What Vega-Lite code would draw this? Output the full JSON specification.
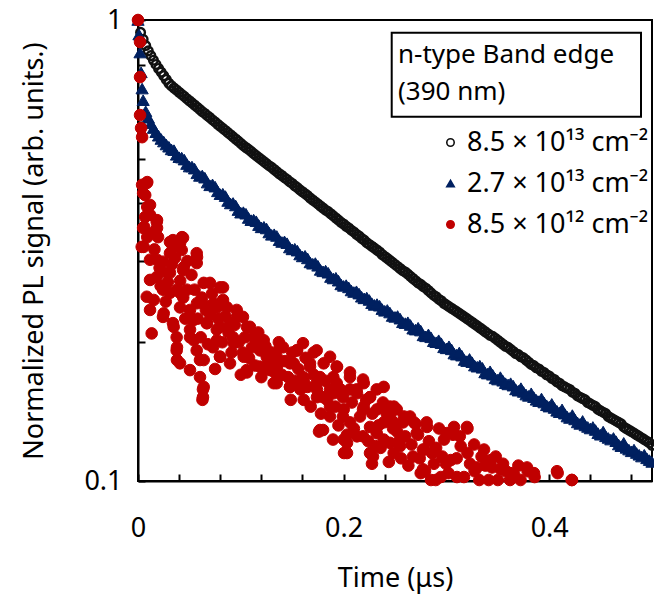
{
  "$schema": "https://vega.github.io/schema/vega-lite/v6.json",
  "width": 514,
  "height": 461,
  "autosize": {"type": "none"},
  "padding": {"left": 138, "top": 20, "right": 2, "bottom": 117},
  "background": "white",
  "config": {
    "font": "Noto Sans",
    "view": {"stroke": "#000000", "strokeWidth": 2},
    "axis": {
      "grid": false,
      "domainColor": "#000000",
      "domainWidth": 2,
      "tickColor": "#000000",
      "tickWidth": 2,
      "tickSize": -7,
      "labelColor": "#000000",
      "labelFontSize": 27,
      "labelFont": "Noto Sans",
      "labelFlush": false,
      "titleColor": "#000000",
      "titleFontSize": 27,
      "titleFont": "Noto Sans",
      "titleFontWeight": "normal",
      "labelOverlap": false
    },
    "legend": {
      "orient": "none",
      "legendX": 299,
      "legendY": 109,
      "padding": 0,
      "labelFontSize": 27,
      "labelFont": "Noto Sans",
      "labelColor": "#000000",
      "labelOffset": 3,
      "labelLimit": 0,
      "rowPadding": 13,
      "symbolSize": 55,
      "symbolStrokeWidth": 1.6,
      "title": null
    }
  },
  "datasets": {
    "high": [
      {"t": 0, "v": 1.0}, {"t": 0.0025, "v": 0.94}, {"t": 0.005, "v": 0.908}, {"t": 0.01, "v": 0.857},
      {"t": 0.015, "v": 0.818}, {"t": 0.02, "v": 0.785}, {"t": 0.025, "v": 0.757}, {"t": 0.03, "v": 0.729},
      {"t": 0.035, "v": 0.712}, {"t": 0.04, "v": 0.697}, {"t": 0.045, "v": 0.683}, {"t": 0.05, "v": 0.668},
      {"t": 0.055, "v": 0.654}, {"t": 0.06, "v": 0.64}, {"t": 0.065, "v": 0.627}, {"t": 0.07, "v": 0.614},
      {"t": 0.075, "v": 0.601}, {"t": 0.08, "v": 0.588}, {"t": 0.085, "v": 0.576}, {"t": 0.09, "v": 0.564},
      {"t": 0.095, "v": 0.552}, {"t": 0.1, "v": 0.54}, {"t": 0.105, "v": 0.529}, {"t": 0.11, "v": 0.519},
      {"t": 0.115, "v": 0.508}, {"t": 0.12, "v": 0.498}, {"t": 0.125, "v": 0.488}, {"t": 0.13, "v": 0.479},
      {"t": 0.135, "v": 0.469}, {"t": 0.14, "v": 0.46}, {"t": 0.145, "v": 0.451}, {"t": 0.15, "v": 0.442},
      {"t": 0.155, "v": 0.433}, {"t": 0.16, "v": 0.424}, {"t": 0.165, "v": 0.416}, {"t": 0.17, "v": 0.407},
      {"t": 0.175, "v": 0.399}, {"t": 0.18, "v": 0.391}, {"t": 0.185, "v": 0.384}, {"t": 0.19, "v": 0.376},
      {"t": 0.195, "v": 0.368}, {"t": 0.2, "v": 0.361}, {"t": 0.205, "v": 0.354}, {"t": 0.21, "v": 0.347},
      {"t": 0.215, "v": 0.34}, {"t": 0.22, "v": 0.333}, {"t": 0.225, "v": 0.326}, {"t": 0.23, "v": 0.32},
      {"t": 0.235, "v": 0.314}, {"t": 0.24, "v": 0.307}, {"t": 0.245, "v": 0.301}, {"t": 0.25, "v": 0.295},
      {"t": 0.255, "v": 0.289}, {"t": 0.26, "v": 0.284}, {"t": 0.265, "v": 0.278}, {"t": 0.27, "v": 0.272},
      {"t": 0.275, "v": 0.267}, {"t": 0.28, "v": 0.262}, {"t": 0.285, "v": 0.256}, {"t": 0.29, "v": 0.251},
      {"t": 0.295, "v": 0.246}, {"t": 0.3, "v": 0.241}, {"t": 0.305, "v": 0.237}, {"t": 0.31, "v": 0.233},
      {"t": 0.315, "v": 0.229}, {"t": 0.32, "v": 0.225}, {"t": 0.325, "v": 0.221}, {"t": 0.33, "v": 0.217},
      {"t": 0.335, "v": 0.213}, {"t": 0.34, "v": 0.209}, {"t": 0.345, "v": 0.206}, {"t": 0.35, "v": 0.202},
      {"t": 0.355, "v": 0.198}, {"t": 0.36, "v": 0.195}, {"t": 0.365, "v": 0.191}, {"t": 0.37, "v": 0.188},
      {"t": 0.375, "v": 0.185}, {"t": 0.38, "v": 0.181}, {"t": 0.385, "v": 0.178}, {"t": 0.39, "v": 0.175},
      {"t": 0.395, "v": 0.172}, {"t": 0.4, "v": 0.169}, {"t": 0.405, "v": 0.166}, {"t": 0.41, "v": 0.163},
      {"t": 0.415, "v": 0.16}, {"t": 0.42, "v": 0.158}, {"t": 0.425, "v": 0.155}, {"t": 0.43, "v": 0.152},
      {"t": 0.435, "v": 0.15}, {"t": 0.44, "v": 0.147}, {"t": 0.445, "v": 0.145}, {"t": 0.45, "v": 0.142},
      {"t": 0.455, "v": 0.14}, {"t": 0.46, "v": 0.137}, {"t": 0.465, "v": 0.135}, {"t": 0.47, "v": 0.133},
      {"t": 0.475, "v": 0.13}, {"t": 0.48, "v": 0.128}, {"t": 0.485, "v": 0.126}, {"t": 0.49, "v": 0.124},
      {"t": 0.495, "v": 0.122}, {"t": 0.5, "v": 0.1195},
      {"t": 0.0075, "v": 0.88}, {"t": 0.0125, "v": 0.837}, {"t": 0.0175, "v": 0.801}, {"t": 0.0225, "v": 0.771},
      {"t": 0.0275, "v": 0.743}, {"t": 0.0325, "v": 0.72}, {"t": 0.0375, "v": 0.705}, {"t": 0.0425, "v": 0.69},
      {"t": 0.0475, "v": 0.675}, {"t": 0.0525, "v": 0.661}, {"t": 0.0575, "v": 0.647}, {"t": 0.0625, "v": 0.633},
      {"t": 0.0675, "v": 0.62}, {"t": 0.0725, "v": 0.607}, {"t": 0.0775, "v": 0.594}, {"t": 0.0825, "v": 0.582},
      {"t": 0.0875, "v": 0.57}, {"t": 0.0925, "v": 0.558}, {"t": 0.0975, "v": 0.546}, {"t": 0.1025, "v": 0.534},
      {"t": 0.1075, "v": 0.524}, {"t": 0.1125, "v": 0.513}, {"t": 0.1175, "v": 0.503}, {"t": 0.1225, "v": 0.493},
      {"t": 0.1275, "v": 0.483}, {"t": 0.1325, "v": 0.474}, {"t": 0.1375, "v": 0.464}, {"t": 0.1425, "v": 0.455},
      {"t": 0.1475, "v": 0.446}, {"t": 0.1525, "v": 0.437}, {"t": 0.1575, "v": 0.428}, {"t": 0.1625, "v": 0.42},
      {"t": 0.1675, "v": 0.411}, {"t": 0.1725, "v": 0.403}, {"t": 0.1775, "v": 0.395}, {"t": 0.1825, "v": 0.387},
      {"t": 0.1875, "v": 0.38}, {"t": 0.1925, "v": 0.372}, {"t": 0.1975, "v": 0.364}, {"t": 0.2025, "v": 0.357},
      {"t": 0.2075, "v": 0.35}, {"t": 0.2125, "v": 0.343}, {"t": 0.2175, "v": 0.336}, {"t": 0.2225, "v": 0.329},
      {"t": 0.2275, "v": 0.323}, {"t": 0.2325, "v": 0.317}, {"t": 0.2375, "v": 0.31}, {"t": 0.2425, "v": 0.304},
      {"t": 0.2475, "v": 0.298}, {"t": 0.2525, "v": 0.292}, {"t": 0.2575, "v": 0.286}, {"t": 0.2625, "v": 0.281},
      {"t": 0.2675, "v": 0.275}, {"t": 0.2725, "v": 0.269}, {"t": 0.2775, "v": 0.264}, {"t": 0.2825, "v": 0.259},
      {"t": 0.2875, "v": 0.253}, {"t": 0.2925, "v": 0.248}, {"t": 0.2975, "v": 0.243}, {"t": 0.3025, "v": 0.239},
      {"t": 0.3075, "v": 0.235}, {"t": 0.3125, "v": 0.231}, {"t": 0.3175, "v": 0.227}, {"t": 0.3225, "v": 0.223},
      {"t": 0.3275, "v": 0.219}, {"t": 0.3325, "v": 0.215}, {"t": 0.3375, "v": 0.211}, {"t": 0.3425, "v": 0.207},
      {"t": 0.3475, "v": 0.204}, {"t": 0.3525, "v": 0.2}, {"t": 0.3575, "v": 0.196}, {"t": 0.3625, "v": 0.193},
      {"t": 0.3675, "v": 0.189}, {"t": 0.3725, "v": 0.186}, {"t": 0.3775, "v": 0.183}, {"t": 0.3825, "v": 0.179},
      {"t": 0.3875, "v": 0.176}, {"t": 0.3925, "v": 0.173}, {"t": 0.3975, "v": 0.17}, {"t": 0.4025, "v": 0.167},
      {"t": 0.4075, "v": 0.164}, {"t": 0.4125, "v": 0.161}, {"t": 0.4175, "v": 0.159}, {"t": 0.4225, "v": 0.156},
      {"t": 0.4275, "v": 0.153}, {"t": 0.4325, "v": 0.151}, {"t": 0.4375, "v": 0.148}, {"t": 0.4425, "v": 0.146},
      {"t": 0.4475, "v": 0.143}, {"t": 0.4525, "v": 0.141}, {"t": 0.4575, "v": 0.138}, {"t": 0.4625, "v": 0.136},
      {"t": 0.4675, "v": 0.134}, {"t": 0.4725, "v": 0.131}, {"t": 0.4775, "v": 0.129}, {"t": 0.4825, "v": 0.127},
      {"t": 0.4875, "v": 0.125}, {"t": 0.4925, "v": 0.123}, {"t": 0.4975, "v": 0.121}
    ],
    "mid": [
      {"t": 0, "v": 1.0}, {"t": 0.001, "v": 0.93}, {"t": 0.002, "v": 0.85}, {"t": 0.003, "v": 0.77},
      {"t": 0.004, "v": 0.71}, {"t": 0.005, "v": 0.67}, {"t": 0.0075, "v": 0.634}, {"t": 0.01, "v": 0.614},
      {"t": 0.0125, "v": 0.597}, {"t": 0.015, "v": 0.583}, {"t": 0.0175, "v": 0.571}, {"t": 0.02, "v": 0.561},
      {"t": 0.0225, "v": 0.552}, {"t": 0.025, "v": 0.545}, {"t": 0.0275, "v": 0.537}, {"t": 0.03, "v": 0.531},
      {"t": 0.035, "v": 0.522}, {"t": 0.04, "v": 0.504}, {"t": 0.045, "v": 0.498}, {"t": 0.05, "v": 0.481},
      {"t": 0.055, "v": 0.476}, {"t": 0.06, "v": 0.459}, {"t": 0.065, "v": 0.455}, {"t": 0.07, "v": 0.438},
      {"t": 0.075, "v": 0.435}, {"t": 0.08, "v": 0.419}, {"t": 0.085, "v": 0.415}, {"t": 0.09, "v": 0.4},
      {"t": 0.095, "v": 0.396}, {"t": 0.1, "v": 0.382}, {"t": 0.105, "v": 0.38}, {"t": 0.11, "v": 0.368},
      {"t": 0.115, "v": 0.366}, {"t": 0.12, "v": 0.355}, {"t": 0.125, "v": 0.353}, {"t": 0.13, "v": 0.342},
      {"t": 0.135, "v": 0.34}, {"t": 0.14, "v": 0.33}, {"t": 0.145, "v": 0.328}, {"t": 0.15, "v": 0.318},
      {"t": 0.155, "v": 0.316}, {"t": 0.16, "v": 0.307}, {"t": 0.165, "v": 0.304}, {"t": 0.17, "v": 0.296},
      {"t": 0.175, "v": 0.293}, {"t": 0.18, "v": 0.285}, {"t": 0.185, "v": 0.283}, {"t": 0.19, "v": 0.275},
      {"t": 0.195, "v": 0.272}, {"t": 0.2, "v": 0.265}, {"t": 0.205, "v": 0.263}, {"t": 0.21, "v": 0.257},
      {"t": 0.215, "v": 0.255}, {"t": 0.22, "v": 0.249}, {"t": 0.225, "v": 0.247}, {"t": 0.23, "v": 0.241},
      {"t": 0.235, "v": 0.24}, {"t": 0.24, "v": 0.234}, {"t": 0.245, "v": 0.232}, {"t": 0.25, "v": 0.227},
      {"t": 0.255, "v": 0.225}, {"t": 0.26, "v": 0.22}, {"t": 0.265, "v": 0.218}, {"t": 0.27, "v": 0.213},
      {"t": 0.275, "v": 0.212}, {"t": 0.28, "v": 0.206}, {"t": 0.285, "v": 0.205}, {"t": 0.29, "v": 0.2},
      {"t": 0.295, "v": 0.199}, {"t": 0.3, "v": 0.194}, {"t": 0.305, "v": 0.193}, {"t": 0.31, "v": 0.188},
      {"t": 0.315, "v": 0.187}, {"t": 0.32, "v": 0.182}, {"t": 0.325, "v": 0.181}, {"t": 0.33, "v": 0.177},
      {"t": 0.335, "v": 0.176}, {"t": 0.34, "v": 0.171}, {"t": 0.345, "v": 0.17}, {"t": 0.35, "v": 0.166},
      {"t": 0.355, "v": 0.165}, {"t": 0.36, "v": 0.162}, {"t": 0.365, "v": 0.161}, {"t": 0.37, "v": 0.157},
      {"t": 0.375, "v": 0.156}, {"t": 0.38, "v": 0.153}, {"t": 0.385, "v": 0.152}, {"t": 0.39, "v": 0.149},
      {"t": 0.395, "v": 0.148}, {"t": 0.4, "v": 0.145}, {"t": 0.405, "v": 0.144}, {"t": 0.41, "v": 0.141},
      {"t": 0.415, "v": 0.14}, {"t": 0.42, "v": 0.137}, {"t": 0.425, "v": 0.136}, {"t": 0.43, "v": 0.133},
      {"t": 0.435, "v": 0.132}, {"t": 0.44, "v": 0.13}, {"t": 0.445, "v": 0.129}, {"t": 0.45, "v": 0.126},
      {"t": 0.455, "v": 0.125}, {"t": 0.46, "v": 0.123}, {"t": 0.465, "v": 0.122}, {"t": 0.47, "v": 0.119},
      {"t": 0.475, "v": 0.118}, {"t": 0.48, "v": 0.116}, {"t": 0.485, "v": 0.115}, {"t": 0.49, "v": 0.113},
      {"t": 0.495, "v": 0.112}, {"t": 0.5, "v": 0.11},
      {"t": 0.0325, "v": 0.524}, {"t": 0.0375, "v": 0.51}, {"t": 0.0425, "v": 0.503}, {"t": 0.0475, "v": 0.487},
      {"t": 0.0525, "v": 0.481}, {"t": 0.0575, "v": 0.465}, {"t": 0.0625, "v": 0.46}, {"t": 0.0675, "v": 0.444},
      {"t": 0.0725, "v": 0.44}, {"t": 0.0775, "v": 0.425}, {"t": 0.0825, "v": 0.42}, {"t": 0.0875, "v": 0.405},
      {"t": 0.0925, "v": 0.401}, {"t": 0.0975, "v": 0.387}, {"t": 0.1025, "v": 0.383}, {"t": 0.1075, "v": 0.372},
      {"t": 0.1125, "v": 0.369}, {"t": 0.1175, "v": 0.359}, {"t": 0.1225, "v": 0.356}, {"t": 0.1275, "v": 0.346},
      {"t": 0.1325, "v": 0.343}, {"t": 0.1375, "v": 0.333}, {"t": 0.1425, "v": 0.331}, {"t": 0.1475, "v": 0.321},
      {"t": 0.1525, "v": 0.319}, {"t": 0.1575, "v": 0.31}, {"t": 0.1625, "v": 0.308}, {"t": 0.1675, "v": 0.298},
      {"t": 0.1725, "v": 0.297}, {"t": 0.1775, "v": 0.287}, {"t": 0.1825, "v": 0.286}, {"t": 0.1875, "v": 0.277},
      {"t": 0.1925, "v": 0.276}, {"t": 0.1975, "v": 0.267}, {"t": 0.2025, "v": 0.266}, {"t": 0.2075, "v": 0.259},
      {"t": 0.2125, "v": 0.258}, {"t": 0.2175, "v": 0.251}, {"t": 0.2225, "v": 0.25}, {"t": 0.2275, "v": 0.243},
      {"t": 0.2325, "v": 0.242}, {"t": 0.2375, "v": 0.236}, {"t": 0.2425, "v": 0.235}, {"t": 0.2475, "v": 0.228},
      {"t": 0.2525, "v": 0.228}, {"t": 0.2575, "v": 0.221}, {"t": 0.2625, "v": 0.221}, {"t": 0.2675, "v": 0.214},
      {"t": 0.2725, "v": 0.215}, {"t": 0.2775, "v": 0.207}, {"t": 0.2825, "v": 0.208}, {"t": 0.2875, "v": 0.201},
      {"t": 0.2925, "v": 0.202}, {"t": 0.2975, "v": 0.195}, {"t": 0.3025, "v": 0.196}, {"t": 0.3075, "v": 0.189},
      {"t": 0.3125, "v": 0.19}, {"t": 0.3175, "v": 0.183}, {"t": 0.3225, "v": 0.184}, {"t": 0.3275, "v": 0.178},
      {"t": 0.3325, "v": 0.178}, {"t": 0.3375, "v": 0.172}, {"t": 0.3425, "v": 0.173}, {"t": 0.3475, "v": 0.167},
      {"t": 0.3525, "v": 0.168}, {"t": 0.3575, "v": 0.163}, {"t": 0.3625, "v": 0.163}, {"t": 0.3675, "v": 0.158},
      {"t": 0.3725, "v": 0.159}, {"t": 0.3775, "v": 0.154}, {"t": 0.3825, "v": 0.155}, {"t": 0.3875, "v": 0.15},
      {"t": 0.3925, "v": 0.151}, {"t": 0.3975, "v": 0.146}, {"t": 0.4025, "v": 0.147}, {"t": 0.4075, "v": 0.142},
      {"t": 0.4125, "v": 0.143}, {"t": 0.4175, "v": 0.138}, {"t": 0.4225, "v": 0.139}, {"t": 0.4275, "v": 0.134},
      {"t": 0.4325, "v": 0.135}, {"t": 0.4375, "v": 0.131}, {"t": 0.4425, "v": 0.131}, {"t": 0.4475, "v": 0.127},
      {"t": 0.4525, "v": 0.128}, {"t": 0.4575, "v": 0.124}, {"t": 0.4625, "v": 0.124}, {"t": 0.4675, "v": 0.12},
      {"t": 0.4725, "v": 0.121}, {"t": 0.4775, "v": 0.117}, {"t": 0.4825, "v": 0.117}, {"t": 0.4875, "v": 0.114},
      {"t": 0.4925, "v": 0.114}, {"t": 0.4975, "v": 0.111}
    ],
    "low": [
      {"t": 0, "v": 1.0}, {"t": 0.002, "v": 0.896}, {"t": 0.002, "v": 0.752}, {"t": 0.002, "v": 0.622},
      {"t": 0.003, "v": 0.583}, {"t": 0.004, "v": 0.557},
      {"t": 0.009, "v": 0.445}, {"t": 0.004, "v": 0.439}, {"t": 0.007, "v": 0.417}, {"t": 0.009, "v": 0.393},
      {"t": 0.0117, "v": 0.378}, {"t": 0.0185, "v": 0.368}, {"t": 0.006, "v": 0.356}, {"t": 0.0185, "v": 0.354},
      {"t": 0.0311, "v": 0.33}, {"t": 0.0428, "v": 0.338}, {"t": 0.009, "v": 0.338},
      {"t": 0.0085, "v": 0.443}, {"t": 0.005, "v": 0.421}, {"t": 0.0117, "v": 0.397}, {"t": 0.007, "v": 0.374},
      {"t": 0.0182, "v": 0.365}, {"t": 0.005, "v": 0.354}, {"t": 0.0195, "v": 0.338}, {"t": 0.0036, "v": 0.322},
      {"t": 0.034, "v": 0.333}, {"t": 0.0438, "v": 0.337}, {"t": 0.0117, "v": 0.302}, {"t": 0.0243, "v": 0.299},
      {"t": 0.034, "v": 0.322}, {"t": 0.0425, "v": 0.317}, {"t": 0.0571, "v": 0.312}, {"t": 0.0182, "v": 0.277},
      {"t": 0.0311, "v": 0.283}, {"t": 0.0438, "v": 0.287}, {"t": 0.0571, "v": 0.297}, {"t": 0.07, "v": 0.269},
      {"t": 0.0827, "v": 0.263}, {"t": 0.0085, "v": 0.251}, {"t": 0.0243, "v": 0.26}, {"t": 0.0409, "v": 0.256},
      {"t": 0.0506, "v": 0.235}, {"t": 0.0632, "v": 0.243}, {"t": 0.0766, "v": 0.238}, {"t": 0.0117, "v": 0.235},
      {"t": 0.0243, "v": 0.227}, {"t": 0.034, "v": 0.22}, {"t": 0.0535, "v": 0.223}, {"t": 0.0668, "v": 0.22},
      {"t": 0.0827, "v": 0.247}, {"t": 0.096, "v": 0.235}, {"t": 0.0133, "v": 0.209}, {"t": 0.0376, "v": 0.205},
      {"t": 0.0506, "v": 0.205}, {"t": 0.0766, "v": 0.213}, {"t": 0.0895, "v": 0.22}, {"t": 0.1021, "v": 0.227},
      {"t": 0.0376, "v": 0.192}, {"t": 0.0571, "v": 0.192}, {"t": 0.073, "v": 0.195}, {"t": 0.0924, "v": 0.205},
      {"t": 0.1089, "v": 0.216}, {"t": 0.1155, "v": 0.205}, {"t": 0.0409, "v": 0.18}, {"t": 0.0506, "v": 0.174},
      {"t": 0.0603, "v": 0.183}, {"t": 0.0798, "v": 0.186}, {"t": 0.0895, "v": 0.18}, {"t": 0.1021, "v": 0.19},
      {"t": 0.1187, "v": 0.195}, {"t": 0.1252, "v": 0.186}, {"t": 0.0603, "v": 0.168}, {"t": 0.0632, "v": 0.158},
      {"t": 0.0632, "v": 0.152}, {"t": 0.1057, "v": 0.174}, {"t": 0.1187, "v": 0.177}, {"t": 0.1284, "v": 0.174},
      {"t": 0.1349, "v": 0.186}, {"t": 0.141, "v": 0.195}, {"t": 0.1479, "v": 0.18}, {"t": 0.1544, "v": 0.192},
      {"t": 0.1605, "v": 0.199}, {"t": 0.1349, "v": 0.163}, {"t": 0.1479, "v": 0.16}, {"t": 0.1605, "v": 0.168},
      {"t": 0.1673, "v": 0.18}, {"t": 0.1738, "v": 0.192}, {"t": 0.1868, "v": 0.186}, {"t": 0.1933, "v": 0.177},
      {"t": 0.1738, "v": 0.163}, {"t": 0.1868, "v": 0.158}, {"t": 0.18, "v": 0.152}, {"t": 0.1933, "v": 0.163},
      {"t": 0.1994, "v": 0.152}, {"t": 0.2062, "v": 0.168}, {"t": 0.2127, "v": 0.158}, {"t": 0.2189, "v": 0.166},
      {"t": 0.2257, "v": 0.152}, {"t": 0.1868, "v": 0.145}, {"t": 0.18, "v": 0.129}, {"t": 0.1994, "v": 0.138},
      {"t": 0.2062, "v": 0.134}, {"t": 0.2189, "v": 0.143}, {"t": 0.2322, "v": 0.158}, {"t": 0.2383, "v": 0.148},
      {"t": 0.2451, "v": 0.138}, {"t": 0.2033, "v": 0.121}, {"t": 0.2033, "v": 0.115}, {"t": 0.2189, "v": 0.125},
      {"t": 0.2322, "v": 0.127}, {"t": 0.2286, "v": 0.113}, {"t": 0.2517, "v": 0.143}, {"t": 0.2578, "v": 0.134},
      {"t": 0.2646, "v": 0.138}, {"t": 0.2711, "v": 0.127}, {"t": 0.2772, "v": 0.117}, {"t": 0.2772, "v": 0.106},
      {"t": 0.2549, "v": 0.123}, {"t": 0.2451, "v": 0.121}, {"t": 0.2675, "v": 0.113}, {"t": 0.2808, "v": 0.134},
      {"t": 0.0627, "v": 0.15}, {"t": 0.1486, "v": 0.15}, {"t": 0.1761, "v": 0.128}, {"t": 0.1897, "v": 0.123},
      {"t": 0.2004, "v": 0.115}, {"t": 0.2033, "v": 0.126}, {"t": 0.2276, "v": 0.109}, {"t": 0.2311, "v": 0.119},
      {"t": 0.238, "v": 0.145}, {"t": 0.2481, "v": 0.13}, {"t": 0.2549, "v": 0.119}, {"t": 0.2617, "v": 0.137},
      {"t": 0.2724, "v": 0.126}, {"t": 0.2792, "v": 0.105}, {"t": 0.286, "v": 0.115}, {"t": 0.2896, "v": 0.1005},
      {"t": 0.2928, "v": 0.13}, {"t": 0.2996, "v": 0.109}, {"t": 0.3064, "v": 0.126}, {"t": 0.3103, "v": 0.102},
      {"t": 0.3205, "v": 0.13}, {"t": 0.3205, "v": 0.115}, {"t": 0.3274, "v": 0.105}, {"t": 0.3342, "v": 0.113},
      {"t": 0.3411, "v": 0.1005}, {"t": 0.3444, "v": 0.107}, {"t": 0.3551, "v": 0.109}, {"t": 0.3619, "v": 0.1005},
      {"t": 0.3721, "v": 0.1005}, {"t": 0.379, "v": 0.105}, {"t": 0.3858, "v": 0.102}, {"t": 0.4082, "v": 0.104},
      {"t": 0.4219, "v": 0.1005},
      {"t": 0.249, "v": 0.145}, {"t": 0.2588, "v": 0.138}, {"t": 0.2685, "v": 0.134}, {"t": 0.2811, "v": 0.131},
      {"t": 0.3074, "v": 0.131}, {"t": 0.32, "v": 0.131}, {"t": 0.2977, "v": 0.123}, {"t": 0.3139, "v": 0.119},
      {"t": 0.2782, "v": 0.117}, {"t": 0.2879, "v": 0.109}, {"t": 0.3042, "v": 0.111}, {"t": 0.3366, "v": 0.117},
      {"t": 0.3431, "v": 0.111}, {"t": 0.3298, "v": 0.107}, {"t": 0.3528, "v": 0.106}, {"t": 0.3626, "v": 0.104},
      {"t": 0.275, "v": 0.104}, {"t": 0.2945, "v": 0.102}, {"t": 0.3171, "v": 0.102}, {"t": 0.3784, "v": 0.107},
      {"t": 0.3852, "v": 0.104}, {"t": 0.4076, "v": 0.105}, {"t": 0.4222, "v": 0.1005},
      {"t": 0.0055, "v": 0.322}, {"t": 0.0185, "v": 0.302}, {"t": 0.0311, "v": 0.312}, {"t": 0.0409, "v": 0.328},
      {"t": 0.0117, "v": 0.273}, {"t": 0.0282, "v": 0.283}, {"t": 0.0445, "v": 0.291}, {"t": 0.0574, "v": 0.306},
      {"t": 0.0153, "v": 0.247}, {"t": 0.0311, "v": 0.256}, {"t": 0.0477, "v": 0.26}, {"t": 0.0639, "v": 0.269},
      {"t": 0.0798, "v": 0.263}, {"t": 0.025, "v": 0.231}, {"t": 0.0409, "v": 0.238}, {"t": 0.0574, "v": 0.243},
      {"t": 0.0736, "v": 0.243}, {"t": 0.0866, "v": 0.238}, {"t": 0.0963, "v": 0.227}, {"t": 0.0347, "v": 0.216},
      {"t": 0.0506, "v": 0.213}, {"t": 0.0671, "v": 0.22}, {"t": 0.0798, "v": 0.216}, {"t": 0.106, "v": 0.216},
      {"t": 0.1125, "v": 0.205}, {"t": 0.0379, "v": 0.195}, {"t": 0.0542, "v": 0.202}, {"t": 0.0768, "v": 0.202},
      {"t": 0.0931, "v": 0.199}, {"t": 0.1223, "v": 0.202}, {"t": 0.0379, "v": 0.183}, {"t": 0.0639, "v": 0.183},
      {"t": 0.0798, "v": 0.186}, {"t": 0.1028, "v": 0.186}, {"t": 0.1187, "v": 0.192}, {"t": 0.1381, "v": 0.195},
      {"t": 0.1547, "v": 0.192}, {"t": 0.1709, "v": 0.19}, {"t": 0.106, "v": 0.172}, {"t": 0.1223, "v": 0.174},
      {"t": 0.1352, "v": 0.177}, {"t": 0.1515, "v": 0.18}, {"t": 0.1673, "v": 0.177}, {"t": 0.1806, "v": 0.18},
      {"t": 0.1936, "v": 0.177}, {"t": 0.0639, "v": 0.16}, {"t": 0.132, "v": 0.163}, {"t": 0.1479, "v": 0.16},
      {"t": 0.1612, "v": 0.166}, {"t": 0.177, "v": 0.168}, {"t": 0.2062, "v": 0.172}, {"t": 0.2196, "v": 0.163},
      {"t": 0.1612, "v": 0.15}, {"t": 0.1741, "v": 0.152}, {"t": 0.1904, "v": 0.155}, {"t": 0.2062, "v": 0.158},
      {"t": 0.2257, "v": 0.152}, {"t": 0.239, "v": 0.16}, {"t": 0.177, "v": 0.129}, {"t": 0.1868, "v": 0.138},
      {"t": 0.2001, "v": 0.143}, {"t": 0.2196, "v": 0.145}, {"t": 0.2325, "v": 0.143}, {"t": 0.2451, "v": 0.145},
      {"t": 0.2001, "v": 0.123}, {"t": 0.213, "v": 0.125}, {"t": 0.2257, "v": 0.131}, {"t": 0.239, "v": 0.134},
      {"t": 0.2257, "v": 0.115}, {"t": 0.239, "v": 0.123}, {"t": 0.2487, "v": 0.134}, {"t": 0.2487, "v": 0.115},
      {"t": 0.014, "v": 0.345}, {"t": 0.016, "v": 0.318}, {"t": 0.021, "v": 0.29}, {"t": 0.022, "v": 0.265},
      {"t": 0.027, "v": 0.245}, {"t": 0.029, "v": 0.27}, {"t": 0.033, "v": 0.295}, {"t": 0.036, "v": 0.305},
      {"t": 0.038, "v": 0.26}, {"t": 0.041, "v": 0.272}, {"t": 0.044, "v": 0.25}, {"t": 0.046, "v": 0.225},
      {"t": 0.048, "v": 0.3}, {"t": 0.052, "v": 0.28}, {"t": 0.055, "v": 0.26}, {"t": 0.058, "v": 0.225},
      {"t": 0.061, "v": 0.205}, {"t": 0.062, "v": 0.25}, {"t": 0.066, "v": 0.235}, {"t": 0.068, "v": 0.198},
      {"t": 0.07, "v": 0.23}, {"t": 0.072, "v": 0.255}, {"t": 0.075, "v": 0.175}, {"t": 0.078, "v": 0.225},
      {"t": 0.082, "v": 0.2}, {"t": 0.085, "v": 0.228}, {"t": 0.088, "v": 0.21}, {"t": 0.091, "v": 0.19},
      {"t": 0.094, "v": 0.218}, {"t": 0.098, "v": 0.2}, {"t": 0.1, "v": 0.17}, {"t": 0.104, "v": 0.205},
      {"t": 0.108, "v": 0.185}, {"t": 0.111, "v": 0.195}, {"t": 0.114, "v": 0.178}, {"t": 0.117, "v": 0.21},
      {"t": 0.12, "v": 0.168}, {"t": 0.124, "v": 0.196}, {"t": 0.127, "v": 0.183}, {"t": 0.13, "v": 0.19},
      {"t": 0.133, "v": 0.172}, {"t": 0.137, "v": 0.2}, {"t": 0.14, "v": 0.17}, {"t": 0.143, "v": 0.182},
      {"t": 0.146, "v": 0.168}, {"t": 0.15, "v": 0.19}, {"t": 0.153, "v": 0.165}, {"t": 0.156, "v": 0.175},
      {"t": 0.158, "v": 0.158}, {"t": 0.163, "v": 0.185}, {"t": 0.165, "v": 0.16}, {"t": 0.168, "v": 0.145},
      {"t": 0.171, "v": 0.17}, {"t": 0.174, "v": 0.158}, {"t": 0.178, "v": 0.14}, {"t": 0.182, "v": 0.165},
      {"t": 0.184, "v": 0.15}, {"t": 0.19, "v": 0.168}, {"t": 0.192, "v": 0.145}, {"t": 0.195, "v": 0.132},
      {"t": 0.197, "v": 0.158}, {"t": 0.208, "v": 0.148}, {"t": 0.21, "v": 0.13}, {"t": 0.213, "v": 0.155},
      {"t": 0.216, "v": 0.138}, {"t": 0.222, "v": 0.15}, {"t": 0.224, "v": 0.122}, {"t": 0.228, "v": 0.14},
      {"t": 0.234, "v": 0.132}, {"t": 0.236, "v": 0.118}, {"t": 0.242, "v": 0.14}, {"t": 0.244, "v": 0.11},
      {"t": 0.252, "v": 0.128}, {"t": 0.256, "v": 0.112}, {"t": 0.26, "v": 0.125}, {"t": 0.263, "v": 0.108},
      {"t": 0.266, "v": 0.12}, {"t": 0.27, "v": 0.133}, {"t": 0.274, "v": 0.112}, {"t": 0.283, "v": 0.122},
      {"t": 0.285, "v": 0.1005}, {"t": 0.29, "v": 0.118}, {"t": 0.296, "v": 0.113}, {"t": 0.3, "v": 0.127},
      {"t": 0.302, "v": 0.104}, {"t": 0.31, "v": 0.112}, {"t": 0.313, "v": 0.125}, {"t": 0.323, "v": 0.109},
      {"t": 0.327, "v": 0.12}, {"t": 0.332, "v": 0.1005}, {"t": 0.338, "v": 0.108}, {"t": 0.348, "v": 0.113},
      {"t": 0.35, "v": 0.1005}, {"t": 0.358, "v": 0.105}, {"t": 0.366, "v": 0.103}, {"t": 0.37, "v": 0.108}
    ],
    "box": [
      {"t0": 0.2468, "t1": 0.4893, "v0": 0.6168, "v1": 0.9386}
    ],
    "note": [
      {"t": 0.2529, "v": 0.805, "lines": ["n-type Band edge", "(390 nm)"]}
    ]
  },
  "encoding": {
    "x": {
      "field": "t",
      "type": "quantitative",
      "scale": {"domain": [0, 0.5], "nice": false, "zero": false},
      "axis": {
        "title": "Time (μs)",
        "values": [0, 0.04, 0.08, 0.12, 0.16, 0.2, 0.24, 0.28, 0.32, 0.36, 0.4, 0.44, 0.48],
        "labelExpr": "datum.value == 0 ? '0' : (datum.value == 0.2 || datum.value == 0.4) ? format(datum.value, '.1f') : ''",
        "labelPadding": 41,
        "titlePadding": 24
      }
    },
    "y": {
      "field": "v",
      "type": "quantitative",
      "scale": {"type": "log", "domain": [0.1, 1], "nice": false},
      "axis": {
        "title": "Normalized PL signal (arb. units.)",
        "values": [0.1, 0.2, 0.3, 0.4, 0.5, 0.6, 0.7, 0.8, 0.9, 1],
        "labelExpr": "datum.value == 1 ? '1' : datum.value == 0.1 ? '0.1' : ''",
        "labelPadding": 23,
        "titlePadding": 35
      }
    }
  },
  "layer": [
    {
      "data": {"name": "high"},
      "mark": {"type": "point", "filled": true, "size": 75, "strokeWidth": 2.4, "opacity": 1},
      "encoding": {
        "shape": {"datum": "8.5 × 10¹³ cm⁻²", "type": "nominal", "scale": {"domain": ["8.5 × 10¹³ cm⁻²", "2.7 × 10¹³ cm⁻²", "8.5 × 10¹² cm⁻²"], "range": ["circle", "triangle-up", "circle"]}},
        "fill": {"datum": "8.5 × 10¹³ cm⁻²", "type": "nominal", "scale": {"domain": ["8.5 × 10¹³ cm⁻²", "2.7 × 10¹³ cm⁻²", "8.5 × 10¹² cm⁻²"], "range": ["transparent", "#002060", "#C00000"]}},
        "stroke": {"datum": "8.5 × 10¹³ cm⁻²", "type": "nominal", "scale": {"domain": ["8.5 × 10¹³ cm⁻²", "2.7 × 10¹³ cm⁻²", "8.5 × 10¹² cm⁻²"], "range": ["#111111", "#002060", "#C00000"]}}
      }
    },
    {
      "data": {"name": "mid"},
      "mark": {"type": "point", "filled": true, "size": 150, "strokeWidth": 1, "opacity": 1},
      "encoding": {
        "shape": {"datum": "2.7 × 10¹³ cm⁻²", "type": "nominal"},
        "fill": {"datum": "2.7 × 10¹³ cm⁻²", "type": "nominal"},
        "stroke": {"datum": "2.7 × 10¹³ cm⁻²", "type": "nominal"}
      }
    },
    {
      "data": {"name": "low"},
      "mark": {"type": "point", "filled": true, "size": 135, "strokeWidth": 1, "opacity": 1},
      "encoding": {
        "shape": {"datum": "8.5 × 10¹² cm⁻²", "type": "nominal"},
        "fill": {"datum": "8.5 × 10¹² cm⁻²", "type": "nominal"},
        "stroke": {"datum": "8.5 × 10¹² cm⁻²", "type": "nominal"}
      }
    },
    {
      "data": {"name": "box"},
      "mark": {"type": "rect", "fill": "white", "stroke": "#000000", "strokeWidth": 2},
      "encoding": {
        "x": {"field": "t0", "type": "quantitative"},
        "x2": {"field": "t1"},
        "y": {"field": "v0", "type": "quantitative"},
        "y2": {"field": "v1"}
      }
    },
    {
      "data": {"name": "note"},
      "mark": {"type": "text", "align": "left", "baseline": "alphabetic", "fontSize": 26, "lineHeight": 37, "color": "#000000", "font": "Noto Sans"},
      "encoding": {
        "text": {"field": "lines"}
      }
    }
  ]
}
